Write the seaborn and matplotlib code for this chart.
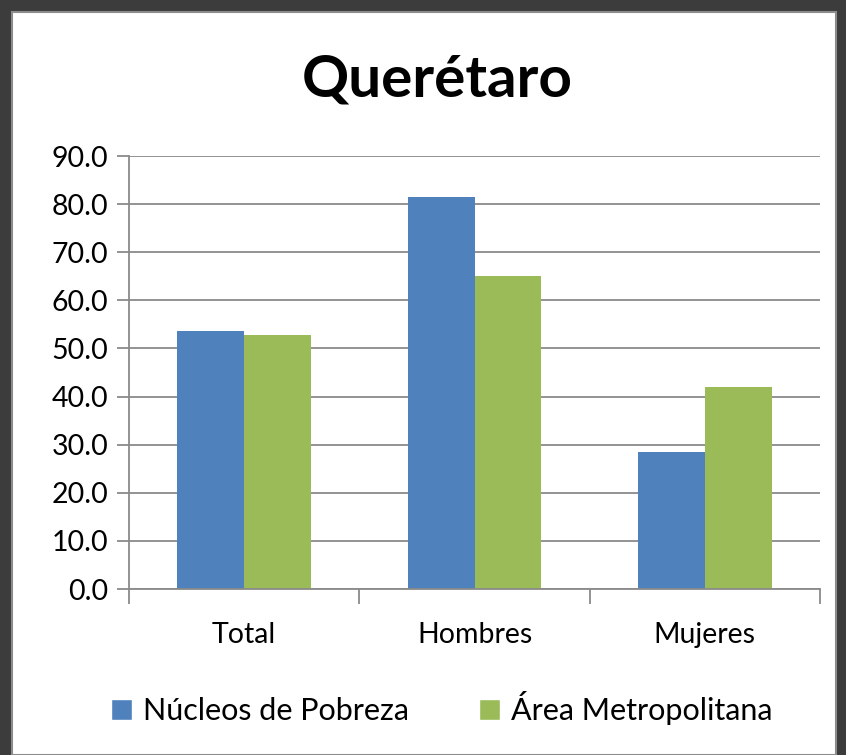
import matplotlib
matplotlib.use("Agg")
import matplotlib.pyplot as plt
from matplotlib.patches import Rectangle, Patch
from matplotlib.ticker import MultipleLocator, FixedLocator, FormatStrFormatter
import seaborn as sns
import pandas as pd

# data
categories = ["Total", "Hombres", "Mujeres"]
series_names = ["Núcleos de Pobreza", "Área Metropolitana"]
nucleos = [53.7, 81.4, 28.4]
area_metro = [52.7, 65.1, 41.9]
colors = ["#4F81BD", "#9BBB59"]

df = pd.DataFrame({
    "categoria": categories * 2,
    "serie": [series_names[0]] * 3 + [series_names[1]] * 3,
    "valor": nucleos + area_metro,
})

sns.set_style("white")
plt.rcParams["font.family"] = ["Lato", "DejaVu Sans"]
plt.rcParams["text.color"] = "black"
plt.rcParams["xtick.color"] = "black"
plt.rcParams["ytick.color"] = "black"

fig = plt.figure(figsize=(8.46, 7.55), dpi=100)
fig.patch.set_facecolor("#3c3c3c")
# white chart area with a light edge, like the screenshot
fig.patches.append(Rectangle((12 / 846, 0), 824 / 846, 1 - 12 / 755,
                             transform=fig.transFigure, facecolor="white",
                             edgecolor="#8c8c8c", linewidth=1.5, zorder=-10))

ax = fig.add_axes([129 / 846, 1 - 589 / 755, 691 / 846, 433 / 755])
sns.barplot(data=df, x="categoria", y="valor", hue="serie",
            palette=colors, width=0.58, gap=0, saturation=1,
            linewidth=0, ax=ax, legend=False)

ax.set_facecolor("none")
ax.set_ylim(0, 90)
ax.set_xlim(-0.5, 2.5)
ax.yaxis.set_major_locator(MultipleLocator(10))
ax.yaxis.set_major_formatter(FormatStrFormatter("%.1f"))
ax.yaxis.grid(True, color="#8a8a8a", linewidth=1.3)
ax.set_axisbelow(True)

for s in ["top", "right"]:
    ax.spines[s].set_visible(False)
for s in ["left", "bottom"]:
    ax.spines[s].set_color("#8a8a8a")
    ax.spines[s].set_linewidth(1.3)

ax.tick_params(axis="y", length=9, width=1.3, color="#8a8a8a",
               labelsize=20.5, pad=6, left=True)
ax.tick_params(axis="x", length=0, labelsize=20.5, pad=24)
ax.xaxis.set_minor_locator(FixedLocator([-0.5, 0.5, 1.5, 2.5]))
ax.tick_params(axis="x", which="minor", length=11, width=1.3,
               color="#8a8a8a", bottom=True)
ax.set_xlabel("")
ax.set_ylabel("")

fig.text(0.517, 1 - 80 / 755, "Querétaro", ha="center", va="center",
         fontsize=42, fontweight="bold")

handles = [Patch(facecolor=c, label=n) for c, n in zip(colors, series_names)]
fig.legend(handles=handles, loc="center", bbox_to_anchor=(0.522, 1 - 708 / 755),
           ncol=2, frameon=False, fontsize=22, handlelength=0.7,
           handleheight=0.7, handletextpad=0.35, columnspacing=2.3)

fig.savefig("out.png", dpi=100, facecolor=fig.get_facecolor())
